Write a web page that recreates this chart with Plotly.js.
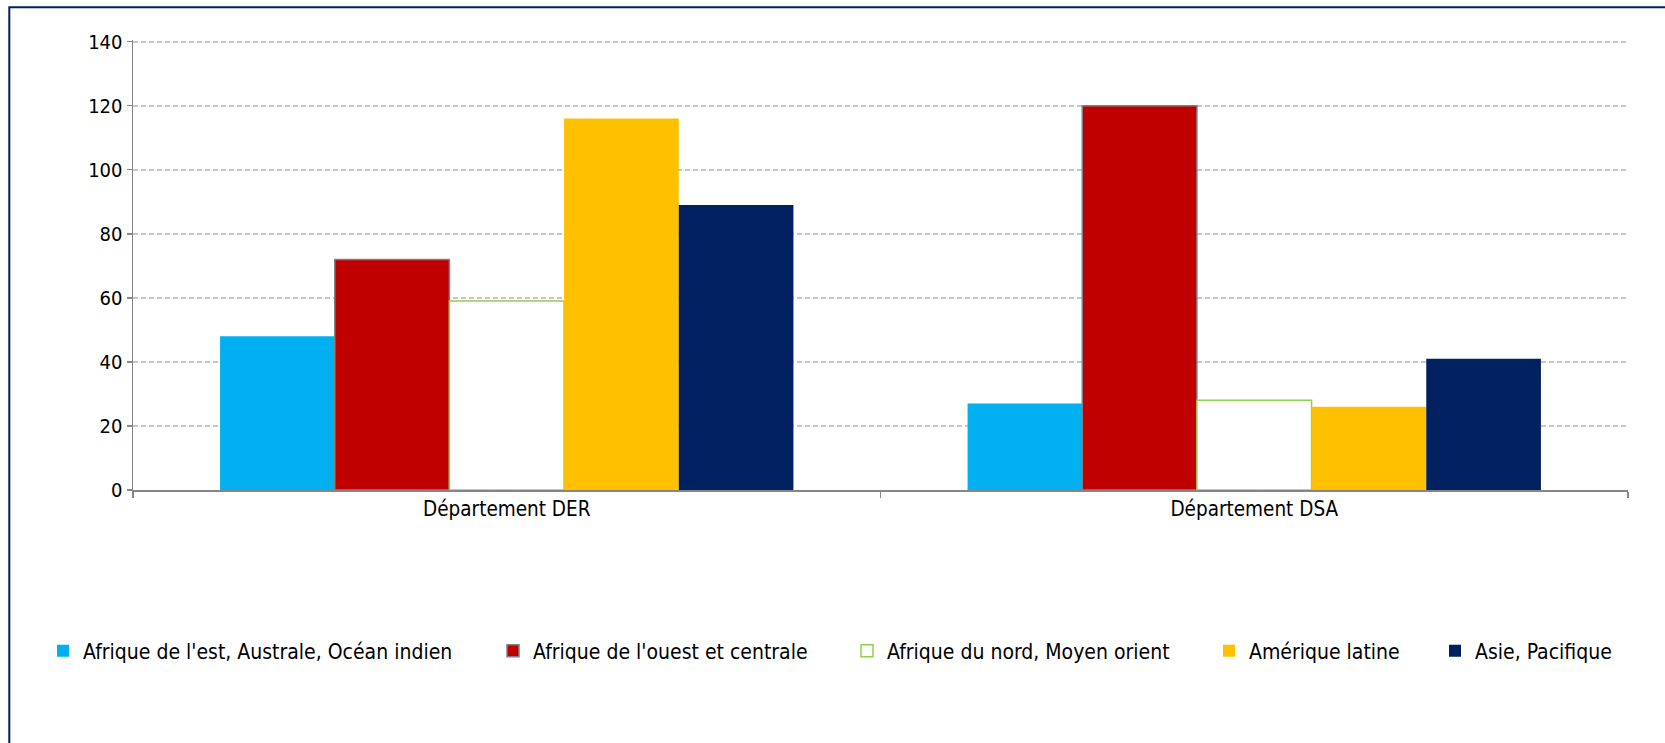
<!DOCTYPE html>
<html>
<head>
<meta charset="utf-8">
<script src="https://cdn.plot.ly/plotly-3.0.1.min.js"></script>
<style>
  html, body { margin: 0; padding: 0; background: #ffffff; }
  #chart { width: 1665px; height: 743px; }
</style>
</head>
<body>
<div id="chart"></div>
<script>
// ---- Data ----
const categories = ["Département DER", "Département DSA"];
const seriesNames = [
  "Afrique de l'est, Australe, Océan indien",
  "Afrique de l'ouest et centrale",
  "Afrique du nord, Moyen orient",
  "Amérique latine",
  "Asie, Pacifique"
];
const afriqueEst = [48, 27];
const afriqueOuest = [72, 120];
const afriqueNord = [59, 28];
const ameriqueLatine = [116, 26];
const asiePacifique = [89, 41];
const yTickValues = [0, 20, 40, 60, 80, 100, 120, 140];

// ---- Styles ----
const seriesValues = [afriqueEst, afriqueOuest, afriqueNord, ameriqueLatine, asiePacifique];
const fills = ["#00B0F0", "#C00000", "#FFFFFF", "#FFC000", "#002060"];
const outlines = ["#00B0F0", "#808080", "#92D050", "#FFC000", "#002060"];
const outlineWidths = [0, 1.5, 1.5, 0, 0];

const FONT = "DejaVu Sans Condensed, DejaVu Sans, sans-serif";

// plot area geometry (px)
const PL = 133, PR = 1628, PB = 490, PT = 40.4;
const PW = PR - PL, PH = PB - PT;

// legend text start positions (px) for each entry
const legendTextStart = [80, 530, 884, 1246, 1472];
const legendKeys = ["legend", "legend2", "legend3", "legend4", "legend5"];

const traces = seriesNames.map((name, i) => ({
  type: "bar",
  name: name,
  x: categories,
  y: seriesValues[i],
  legend: legendKeys[i],
  marker: { color: fills[i], line: { color: outlines[i], width: outlineWidths[i] } },
  hoverinfo: "name+y"
}));

const layout = {
  width: 1665,
  height: 743,
  paper_bgcolor: "#ffffff",
  plot_bgcolor: "#ffffff",
  font: { family: FONT, size: 20, color: "#000000" },
  margin: { l: PL, r: 1665 - PR, t: PT, b: 743 - PB, pad: 0 },
  barmode: "group",
  bargap: 0.233,
  bargroupgap: 0,
  showlegend: true,
  xaxis: {
    type: "category",
    showline: true,
    linecolor: "#868686",
    linewidth: 1.5,
    ticks: "outside",
    tickson: "boundaries",
    ticklen: 6,
    tickcolor: "#868686",
    tickwidth: 1.5,
    showgrid: false,
    zeroline: false,
    tickfont: { family: FONT, size: 20.5, color: "#000000" }
  },
  yaxis: {
    range: [0, 140.5],
    tickvals: yTickValues,
    ticktext: yTickValues.map(String),
    showline: true,
    linecolor: "#868686",
    linewidth: 1.5,
    ticks: "outside",
    ticklen: 5,
    tickcolor: "#868686",
    tickwidth: 1.5,
    showgrid: true,
    gridcolor: "#C6C6C6",
    gridwidth: 2,
    griddash: "5px,3px",
    zeroline: false,
    tickfont: { family: FONT, size: 20, color: "#000000" }
  },
  shapes: [{
    type: "rect",
    xref: "paper", yref: "paper",
    x0: (9.3 - PL) / PW, x1: 1.1,
    y0: (PB - 7.8) / PH, y1: -0.7,
    line: { color: "#002060", width: 2 },
    fillcolor: "rgba(0,0,0,0)",
    layer: "below"
  }]
};

legendKeys.forEach((key, i) => {
  layout[key] = {
    orientation: "h",
    x: (legendTextStart[i] - 37 - PL) / PW,
    xanchor: "left",
    y: (PB - 651) / PH,
    yanchor: "middle",
    font: { family: FONT, size: 21, color: "#000000" },
    itemwidth: 30,
    borderwidth: 0,
    bgcolor: "rgba(0,0,0,0)"
  };
});

Plotly.newPlot("chart", traces, layout, { displayModeBar: false, staticPlot: true });
</script>
</body>
</html>
